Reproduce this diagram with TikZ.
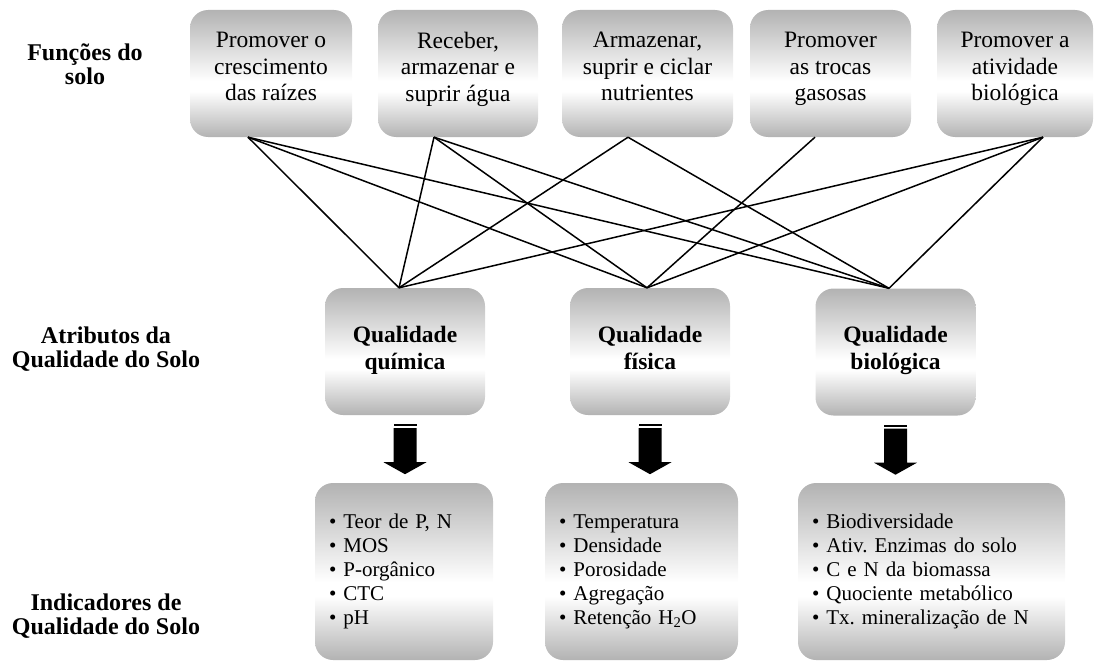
\documentclass[tikz,border=0pt]{standalone}
\usepackage{fontspec}
\setmainfont{Liberation Serif}
\usetikzlibrary{calc}
\definecolor{boxgray}{gray}{0.70}
\pgfdeclareverticalshading{soilfill}{100bp}{color(0bp)=(boxgray); color(25bp)=(boxgray);
  color(43bp)=(white); color(47bp)=(white); color(75bp)=(boxgray); color(100bp)=(boxgray)}
\tikzset{
  soilbox/.style={shade,shading=soilfill,rounded corners=18pt,inner sep=0pt,
    execute at begin node=\frenchspacing\strut,execute at end node=\strut},
  funcbox/.style={soilbox,align=center,minimum height=127pt,font=\fontsize{23.5}{26.5}\selectfont,
    execute at end node=\rule[-14pt]{0pt}{14pt}},
  attrbox/.style={soilbox,align=center,minimum width=160pt,minimum height=127pt,
    font=\fontsize{23.5}{27}\selectfont\bfseries},
  indbox/.style={soilbox,align=left,inner xsep=14pt,minimum height=177pt,
    font=\fontsize{21}{24}\selectfont},
  rowlabel/.style={align=center,font=\fontsize{24}{24}\selectfont\bfseries,
    execute at begin node=\strut,execute at end node=\strut},
  link/.style={line width=1.5pt}
}
\begin{document}
\begin{tikzpicture}[x=1pt,y=-1pt]
    \useasboundingbox (0,0) rectangle (1096,661);
    % row labels
    \node[rowlabel] (lf) at (85,68) {Funções do\\solo};
    \node[rowlabel] (la) at (106,350.5) {Atributos da\\Qualidade do Solo};
    \node[rowlabel] (li) at (106,618) {Indicadores de\\Qualidade do Solo};
    % soil functions
    \node[funcbox,minimum width=162pt] (fr) at (271,73.5) {Promover o\\crescimento\\das raízes};
    \node[funcbox,minimum width=160pt] (fa) at (458,73.5) {Receber,\\armazenar e\\suprir água};
    \node[funcbox,minimum width=171pt] (fn) at (647.5,73.5) {Armazenar,\\suprir e ciclar\\nutrientes};
    \node[funcbox,minimum width=161pt] (fg) at (830.5,73.5) {Promover\\as trocas\\gasosas};
    \node[funcbox,minimum width=156pt] (fb) at (1015,73.5) {Promover a\\atividade\\biológica};
    % quality attributes
    \node[attrbox] (aq) at (405,351.5) {Qualidade\\química};
    \node[attrbox] (af) at (650,351.5) {Qualidade\\física};
    \node[attrbox] (ab) at (895.5,352) {Qualidade\\biológica};
    % indicators
    \node[indbox,text width=150pt] (iq) at (404,571.5)
      {• Teor de P, N\\• MOS\\• P-orgânico\\• CTC\\• pH};
    \node[indbox,text width=165pt] (if) at (641.5,571.5)
      {• Temperatura\\• Densidade\\• Porosidade\\• Agregação\\• Retenção H\textsubscript{2}O};
    \node[indbox,text width=239pt] (ib) at (931.5,571.5)
      {• Biodiversidade\\• Ativ. Enzimas do solo\\• C e N da biomassa\\• Quociente metabólico\\• Tx. mineralização de N};
    % line ends
    \coordinate (fr-o) at ($(fr.south)+(-23,0)$);
    \coordinate (fa-o) at ($(fa.south)+(-24,0)$);
    \coordinate (fn-o) at ($(fn.south)+(-19.5,0)$);
    \coordinate (fg-o) at ($(fg.south)+(-15.5,0)$);
    \coordinate (fb-o) at ($(fb.south)+(28,0)$);
    \coordinate (aq-i) at ($(aq.north)+(-6,0)$);
    \coordinate (af-i) at ($(af.north)+(-3,0)$);
    \coordinate (ab-i) at ($(ab.north)+(-6.5,0)$);
    \foreach \s/\t in {fr-o/aq-i,fr-o/af-i,fr-o/ab-i,fa-o/aq-i,fa-o/af-i,fa-o/ab-i,
        fn-o/aq-i,fn-o/ab-i,fg-o/af-i,fb-o/aq-i,fb-o/af-i,fb-o/ab-i}
      \draw[link] (\s) -- (\t);
    % block arrows
    \foreach \a in {aq,af,ab}{
      \fill ($(\a.south)+(-11.5,9)$) rectangle ++(23,2);
      \fill ($(\a.south)+(-11.5,13)$) -- ++(23,0) -- ++(0,34) -- ++(10,0)
        -- ++(-21.5,12) -- ++(-21.5,-12) -- ++(10,0) -- cycle;
    }
\end{tikzpicture}
\end{document}
